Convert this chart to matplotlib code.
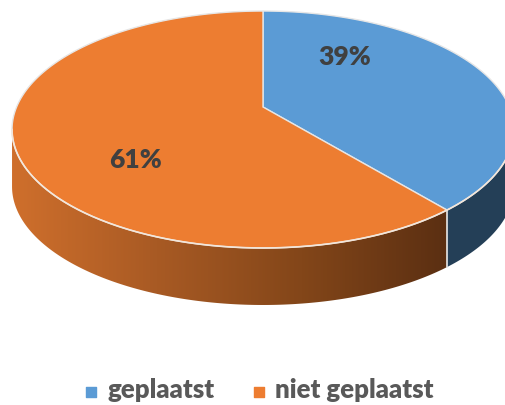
import numpy as np
import matplotlib.pyplot as plt
from matplotlib.patches import Polygon
from matplotlib.colors import LinearSegmentedColormap

labels = ['geplaatst', 'niet geplaatst']
values = [39, 61]
pct_labels = ['39%', '61%']
top_colors = ['#5b9bd5', '#ed7d31']

# layout in pixel units (figure is 505x405)
cx, cy = 263, 107          # projected centre of the pie
A, B, K = 246.4, 114.2, 0.19   # radii and perspective factor
depth = 57
label_xy = [(345, 57), (135, 160)]

plt.rcParams['font.family'] = ['Lato', 'DejaVu Sans']


def project(t, r=1.0, dy=0.0):
    u = r * np.cos(t)
    v = r * np.sin(t)
    w = 1 + K * v
    return cx + A * u / w, cy - B * v / w + dy


fig = plt.figure(figsize=(5.05, 4.05), dpi=100)
ax = fig.add_axes([0, 0, 1, 1])
ax.set_xlim(0, 505)
ax.set_ylim(405, 0)
ax.axis('off')

# wedge angle ranges, starting at 12 o'clock going clockwise
fr = np.array(values, dtype=float) / sum(values)
ends = np.pi / 2 - 2 * np.pi * np.cumsum(fr)
starts = np.concatenate([[np.pi / 2], ends[:-1]])

# visible front part of the side wall
t_left = -np.pi + np.arcsin(K)
t_right = -np.arcsin(K)

side_cmap = LinearSegmentedColormap.from_list(
    'side', ['#cf6f2c', '#a85a24', '#834619', '#5b2f12'])

for i in range(len(values)):
    a, b = ends[i], starts[i]          # a < b
    lo = max(a, t_left)
    hi = min(b, t_right)
    if hi <= lo:
        continue
    ts = np.linspace(lo, hi, 200)
    xt, yt = project(ts)
    xb, yb = project(ts[::-1], dy=depth)
    pts = np.column_stack([np.concatenate([xt, xb]), np.concatenate([yt, yb])])
    if i == 0:
        wall = Polygon(pts, closed=True, facecolor='#243f57', edgecolor='none', zorder=1)
        ax.add_patch(wall)
    else:
        wall = Polygon(pts, closed=True, facecolor='none', edgecolor='none', zorder=1)
        ax.add_patch(wall)
        grad = np.linspace(0, 1, 256).reshape(1, -1)
        im = ax.imshow(grad, cmap=side_cmap, aspect='auto',
                       extent=(pts[:, 0].min(), pts[:, 0].max(), pts[:, 1].max(), pts[:, 1].min()),
                       zorder=1)
        im.set_clip_path(wall)

# vertical edge where the wedges meet on the wall
for t in ends[:1]:
    x0, y0 = project(t)
    x1, y1 = project(t, dy=depth)
    ax.plot([x0, x1], [y0, y1], color='#e8e8e8', lw=1.2, zorder=2)

# front rim line
ts = np.linspace(t_left, t_right, 300)
xr, yr = project(ts)
ax.plot(xr, yr, color='#f3e6da', lw=1.2, zorder=4)

# top faces
for i in range(len(values)):
    ts = np.linspace(starts[i], ends[i], 300)
    xt, yt = project(ts)
    pts = np.column_stack([np.concatenate([[cx], xt]), np.concatenate([[cy], yt])])
    ax.add_patch(Polygon(pts, closed=True, facecolor=top_colors[i],
                         edgecolor='#e6e6e6', lw=1.0, zorder=3))

for (x, y), s in zip(label_xy, pct_labels):
    ax.text(x, y, s, ha='center', va='center', fontsize=19,
            fontweight='heavy', color='#404040', zorder=5)

# legend
leg_x = [91, 259]
leg_y = 392
for x, lab, c in zip(leg_x, labels, top_colors):
    ax.scatter([x], [leg_y], marker='s', s=55, color=c, zorder=5, clip_on=False)
    ax.text(x + 16, leg_y - 2, lab, ha='left', va='center', fontsize=18.5,
            fontweight='heavy', color='#595959', zorder=5)

fig.savefig('out.png', dpi=100)
